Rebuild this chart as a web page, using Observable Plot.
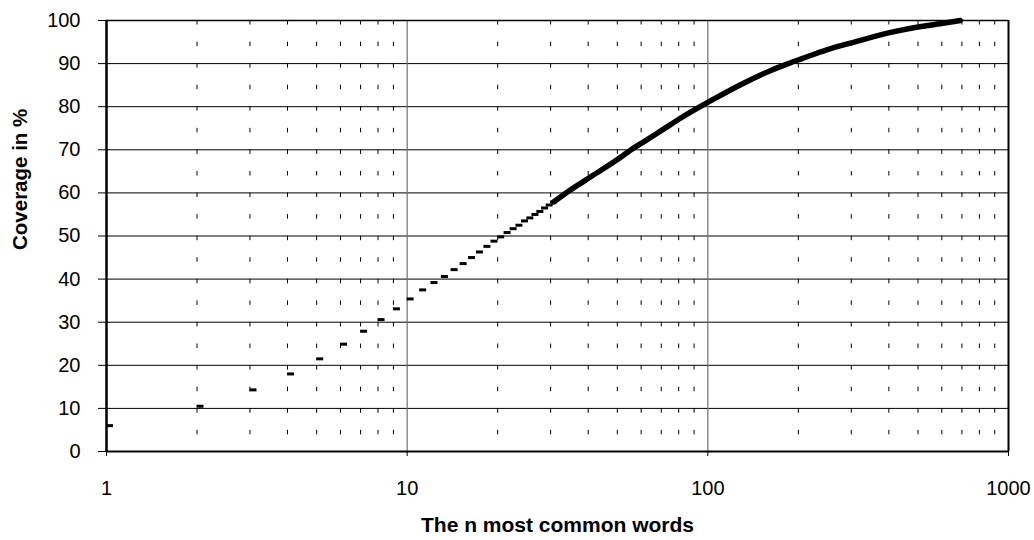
<!DOCTYPE html>
<html><head><meta charset="utf-8">
<script src="https://cdn.jsdelivr.net/npm/d3@7"></script>
<script src="https://cdn.jsdelivr.net/npm/@observablehq/plot@0.6"></script>
<style>body{margin:0;background:#fff} svg{display:block}</style>
</head><body><div id="chart"></div>
<script>
// Individually visible points (n = 1..30)
const wordsN = [1,2,3,4,5,6,7,8,9,10,11,12,13,14,15,16,17,18,19,20,21,22,23,24,25,26,27,28,29,30];
const coverage = [6.0,10.5,14.3,18.0,21.5,24.9,27.9,30.6,33.1,35.4,37.5,39.2,40.6,42.2,43.6,45.0,46.3,47.6,48.8,49.8,50.8,51.7,52.5,53.5,54.2,55.0,55.7,56.5,57.2,57.9];
// Dense part, where the points merge into a thick band (read at sample positions)
const curveN = [30,33,40,50,54,60,70,80,90,100,128,157,181,200,243,300,400,500,600,675];
const curveCov = [57.9,60.0,63.8,68.2,69.9,71.9,74.9,77.5,79.6,81.4,85.4,88.3,90.0,91.1,93.2,95.0,97.3,98.6,99.4,100];
const xTicks = [1,10,100,1000];
const yTicks = [0,10,20,30,40,50,60,70,80,90,100];
const minorX = [2,3,4,5,6,7,8,9,20,30,40,50,60,70,80,90,200,300,400,500,600,700,800,900];
const xTitle = "The n most common words";
const yTitle = "Coverage in %";

const dashes = wordsN.map((n, i) => ({n, c: coverage[i]}));
const band = curveN.map((n, i) => ({n, c: curveCov[i]}));

const dashSymbol = {
  draw(ctx) {
    ctx.moveTo(-0.5, -1.5); ctx.lineTo(6.5, -1.5); ctx.lineTo(6.5, 1.5); ctx.lineTo(-0.5, 1.5); ctx.closePath();
  }
};

const chart = Plot.plot({
  width: 1034, height: 540,
  marginLeft: 106, marginRight: 26, marginTop: 20, marginBottom: 89,
  x: {type: "log", domain: [1, 1000]},
  y: {domain: [0, 100]},
  style: {fontFamily: "Arial, 'Liberation Sans', sans-serif", fontSize: "20px", background: "#fff", color: "#000"},
  marks: [
    Plot.ruleX(minorX, {y1: 100, y2: 0, stroke: "#000", strokeWidth: 1, strokeDasharray: "4.5 17.07"}),
    Plot.ruleY(yTicks.slice(1, -1), {stroke: "#000", strokeWidth: 1}),
    Plot.ruleX([10, 100], {stroke: "#707070", strokeWidth: 1.2}),
    Plot.ruleX([1000], {stroke: "#000", strokeWidth: 2}),
    Plot.ruleY([100], {stroke: "#000", strokeWidth: 1.6}),
    Plot.ruleX([1], {stroke: "#000", strokeWidth: 2.5}),
    Plot.ruleY([0], {stroke: "#000", strokeWidth: 2}),
    Plot.axisY(yTicks, {tickSize: 8, tickPadding: 18, fontSize: 20, label: null}),
    Plot.axisX(xTicks, {tickSize: 5, tickPadding: 24, fontSize: 20, label: null, tickFormat: d => String(d)}),
    Plot.line(band, {x: "n", y: "c", dx: 3, stroke: "#000", strokeWidth: 5.5, curve: "monotone-x"}),
    Plot.dot(dashes, {x: "n", y: "c", symbol: dashSymbol, fill: "#000", stroke: "none", r: 2}),
    Plot.text([yTitle], {text: d => d, frameAnchor: "left", dx: -86, dy: 14, rotate: -90, fontWeight: "bold", fontSize: 20.5}),
    Plot.text([xTitle], {text: d => d, frameAnchor: "bottom", dy: 80, fontWeight: "bold", fontSize: 21})
  ]
});
document.getElementById("chart").appendChild(chart);
</script>
</body></html>
